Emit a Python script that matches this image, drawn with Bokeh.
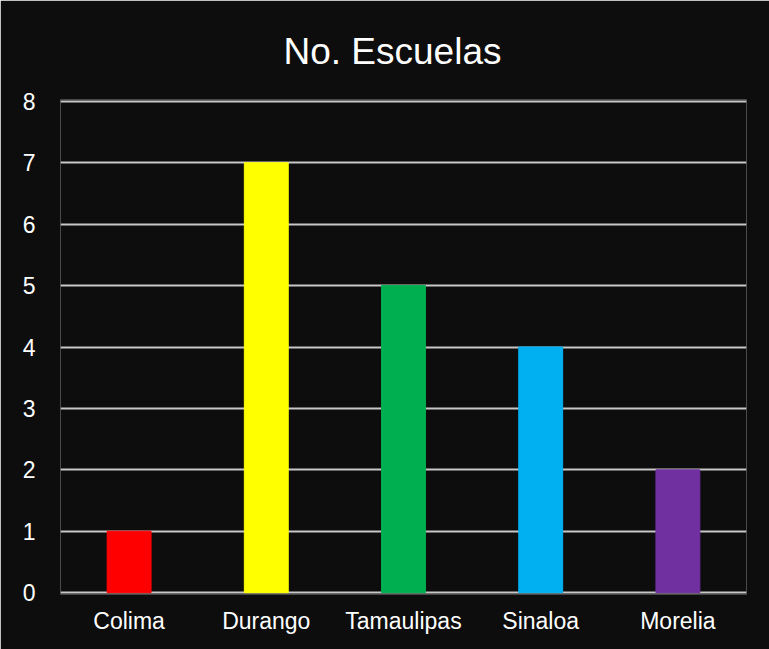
from bokeh.plotting import figure
from bokeh.models import ColumnDataSource, Range1d, FactorRange, FixedTicker
from bokeh.embed import file_html
from bokeh.resources import INLINE

categories = ["Colima", "Durango", "Tamaulipas", "Sinaloa", "Morelia"]
values = [1, 7, 5, 4, 2]
colors = ["#ff0000", "#ffff00", "#00b050", "#00b0f0", "#7030a0"]
y_ticks = [0, 1, 2, 3, 4, 5, 6, 7, 8]

src = ColumnDataSource(dict(cat=categories, val=values, col=colors))

p = figure(width=769, height=649, output_backend="svg", toolbar_location=None,
           x_range=FactorRange(*categories, range_padding=0),
           y_range=Range1d(-0.03, 8.03),
           min_border_left=60, min_border_right=23, min_border_top=99, min_border_bottom=55,
           title="No. Escuelas")
p.background_fill_color = "#0d0d0d"
p.border_fill_color = "#0d0d0d"
p.outline_line_color = None

p.title.text_font = "Liberation Sans"
p.title.text_font_size = "37px"
p.title.text_font_style = "normal"
p.title.text_color = "#ffffff"
p.title.align = "left"
p.title.offset = 223
p.title.standoff = 56

p.vbar(x="cat", top="val", width=0.32, color="col", source=src)

p.xgrid.grid_line_color = None
p.ygrid.grid_line_color = "#c8c8c8"
p.ygrid.grid_line_width = 2
p.yaxis.ticker = FixedTicker(ticks=y_ticks)

for ax in (p.xaxis, p.yaxis):
    ax.axis_line_color = None
    ax.major_tick_line_color = None
    ax.minor_tick_line_color = None
    ax.major_label_text_font = "Liberation Sans"
    ax.major_label_text_font_size = "23px"
    ax.major_label_text_color = "#ffffff"
p.xaxis.major_label_standoff = 7
p.yaxis.major_label_standoff = 19

open("out.html", "w").write(file_html(p, INLINE))
